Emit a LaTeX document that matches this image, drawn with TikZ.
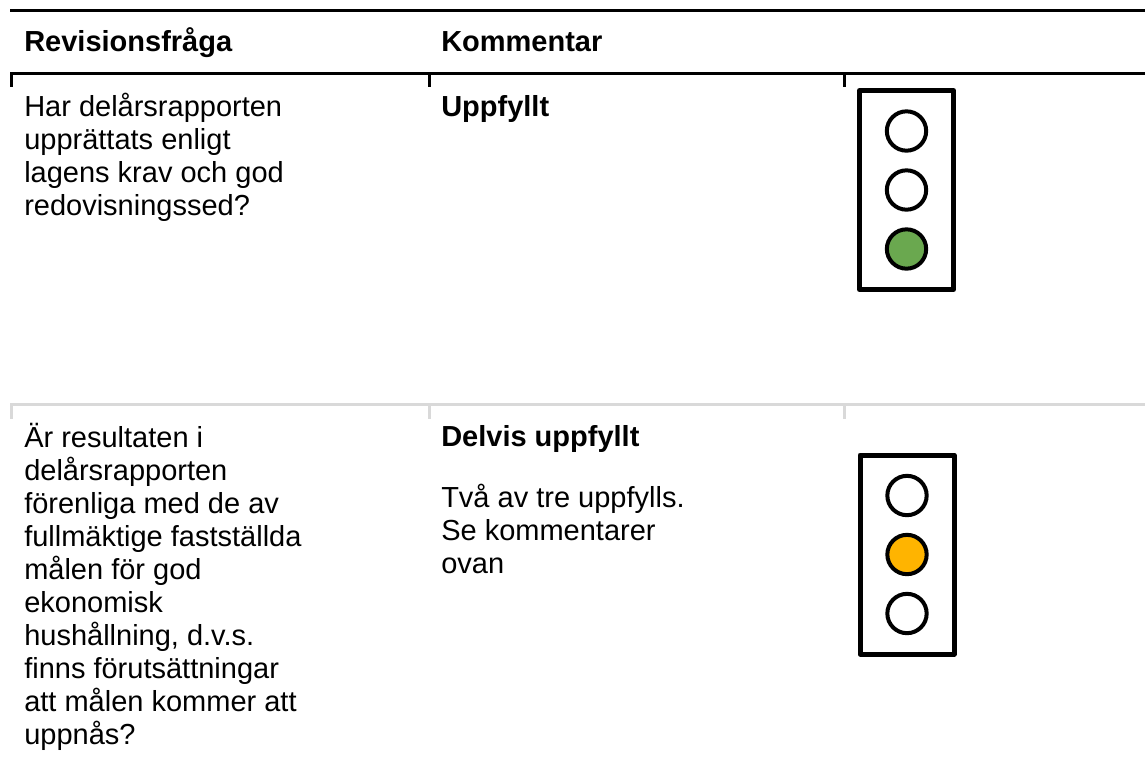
\documentclass[tikz,border=0pt]{standalone}
\usepackage{fontspec}
\setmainfont{Liberation Sans}

\definecolor{lampgreen}{HTML}{6AA84F}
\definecolor{lampamber}{HTML}{FFB400}
\definecolor{rulegray}{HTML}{D9D9D9}

\tikzset{
  body/.style={anchor=base west, inner sep=0pt, align=left, font=\fontsize{21.75}{24.75}\selectfont},
  head/.style={anchor=base west, inner sep=0pt, font=\fontsize{21.75}{24.75}\selectfont\bfseries},
  verdict/.style={body, font=\fontsize{21.75}{24.75}\selectfont\bfseries},
  housing/.style={draw, line width=3.75pt, line join=round, minimum width=70.5pt, minimum height=149.25pt, inner sep=0pt},
  lamp/.style={circle, draw, line width=3pt, minimum size=29.5pt, inner sep=0pt},
}

\begin{document}
\begin{tikzpicture}[x=0.75pt, y=-0.75pt]
    \useasboundingbox (0,0) rectangle (1145,764);

    % top rule
    \draw[line width=2.25pt] (10,10.5) to (1145,10.5);

    % header
    \node[head] (hquestion) at (24,51) {Revisionsfråga};
    \node[head] (hcomment) at (441,51) {Kommentar};

    % rule under header, with cell ticks
    \draw[line width=2.25pt] (10,73.5) to (1145,73.5);
    \draw[line width=2.25pt] (11.5,73.5) to (11.5,87);
    \draw[line width=2.25pt] (429,73.5) to (429,87);
    \draw[line width=2.25pt] (844,73.5) to (844,87);

    % first question (placed at the baseline of its last line)
    \node[body] (qone) at (24,215) {Har delårsrapporten\\upprättats enligt\\lagens krav och god\\redovisningssed?};
    \node[verdict] (vone) at (441,116) {Uppfyllt};

    % first traffic light, green
    \node[housing] (lightone) at (906.5,190) {};
    \node[lamp] (onetop) at (906.5,131) {};
    \node[lamp] (onemid) at (906.5,190) {};
    \node[lamp, fill=lampgreen] (onelow) at (906.5,249) {};

    % gray rule between rows, with cell ticks
    \draw[rulegray, line width=2.25pt] (10,404.5) to (1145,404.5);
    \draw[rulegray, line width=2.25pt] (11.5,404.5) to (11.5,418.5);
    \draw[rulegray, line width=2.25pt] (429,404.5) to (429,418.5);
    \draw[rulegray, line width=2.25pt] (844,404.5) to (844,418.5);

    % second question (placed at the baseline of its last line)
    \node[body] (qtwo) at (24,744) {Är resultaten i\\delårsrapporten\\förenliga med de av\\fullmäktige fastställda\\målen för god\\ekonomisk\\hushållning, d.v.s.\\finns förutsättningar\\att målen kommer att\\uppnås?};
    \node[verdict] (vtwo) at (441,446) {Delvis uppfyllt};
    \node[body] (ctwo) at (441,573) {Två av tre uppfylls.\\Se kommentarer\\ovan};

    % second traffic light, amber
    \node[housing] (lighttwo) at (907,554.5) {};
    \node[lamp] (twotop) at (907,495.5) {};
    \node[lamp, fill=lampamber] (twomid) at (907,554.5) {};
    \node[lamp] (twolow) at (907,613.5) {};

\end{tikzpicture}
\end{document}
